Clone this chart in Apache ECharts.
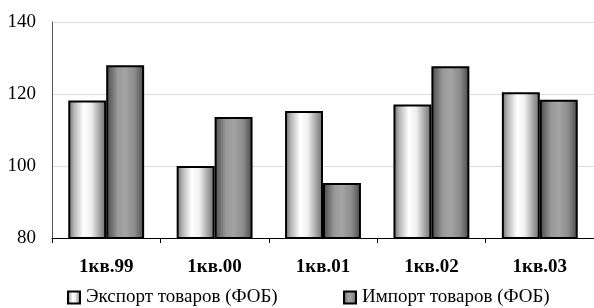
<!DOCTYPE html>
<html>
<head>
<meta charset="utf-8">
<script src="https://cdn.jsdelivr.net/npm/echarts@6/dist/echarts.min.js"></script>
<style>
  html, body { margin: 0; padding: 0; background: #fff; }
  #chart { width: 594px; height: 308px; }
</style>
</head>
<body>
<div id="chart"></div>
<script>
var categories = ['1кв.99', '1кв.00', '1кв.01', '1кв.02', '1кв.03'];
var exportValues = [118.2, 100.0, 115.3, 117.1, 120.5];
var importValues = [128.0, 113.6, 95.3, 127.7, 118.4];
var seriesNames = ['Экспорт товаров (ФОБ)', 'Импорт товаров (ФОБ)'];

var chart = echarts.init(document.getElementById('chart'));

var exportFill = {
  type: 'linear', x: 0, y: 0, x2: 1, y2: 0,
  colorStops: [
    { offset: 0, color: '#6a6a6a' },
    { offset: 0.15, color: '#b4b4b4' },
    { offset: 0.4, color: '#ffffff' },
    { offset: 0.6, color: '#f0f0f0' },
    { offset: 0.85, color: '#9c9c9c' },
    { offset: 1, color: '#6a6a6a' }
  ]
};
var importFill = {
  type: 'linear', x: 0, y: 0, x2: 1, y2: 0,
  colorStops: [
    { offset: 0, color: '#484848' },
    { offset: 0.3, color: '#999999' },
    { offset: 0.5, color: '#a4a4a4' },
    { offset: 0.75, color: '#8c8c8c' },
    { offset: 1, color: '#484848' }
  ]
};

var font = 'Liberation Serif, Times New Roman, serif';

var option = {
  animation: false,
  textStyle: { fontFamily: font },
  grid: { left: 52, top: 22, width: 545, height: 216, containLabel: false },
  legend: [{
    data: [seriesNames[0]],
    left: 62, top: 283,
    icon: 'rect', itemWidth: 12, itemHeight: 12,
    textStyle: { fontFamily: font, fontSize: 19, color: '#000', padding: [0, 0, 0, 1] }
  }, {
    data: [seriesNames[1]],
    left: 338, top: 283,
    icon: 'rect', itemWidth: 12, itemHeight: 12,
    textStyle: { fontFamily: font, fontSize: 19, color: '#000', padding: [0, 0, 0, 1] }
  }],
  xAxis: {
    type: 'category',
    data: categories,
    axisLine: { lineStyle: { color: '#000', width: 1 } },
    axisTick: { show: true, length: 5, lineStyle: { color: '#000' } },
    axisLabel: { color: '#000', fontFamily: font, fontSize: 19, fontWeight: 'bold', margin: 20 }
  },
  yAxis: {
    type: 'value',
    min: 80, max: 140, interval: 20,
    axisLine: { show: true, lineStyle: { color: '#555' } },
    axisTick: { show: false },
    axisLabel: { color: '#000', fontFamily: font, fontSize: 19, margin: 16 },
    splitLine: { lineStyle: { color: '#dcdcdc' } }
  },
  series: [{
    name: seriesNames[0],
    type: 'bar',
    data: exportValues,
    barGap: '0%',
    barCategoryGap: '30%',
    itemStyle: { color: exportFill, borderColor: '#000', borderWidth: 2 }
  }, {
    name: seriesNames[1],
    type: 'bar',
    data: importValues,
    itemStyle: { color: importFill, borderColor: '#000', borderWidth: 2 }
  }]
};

chart.setOption(option);
</script>
</body>
</html>
